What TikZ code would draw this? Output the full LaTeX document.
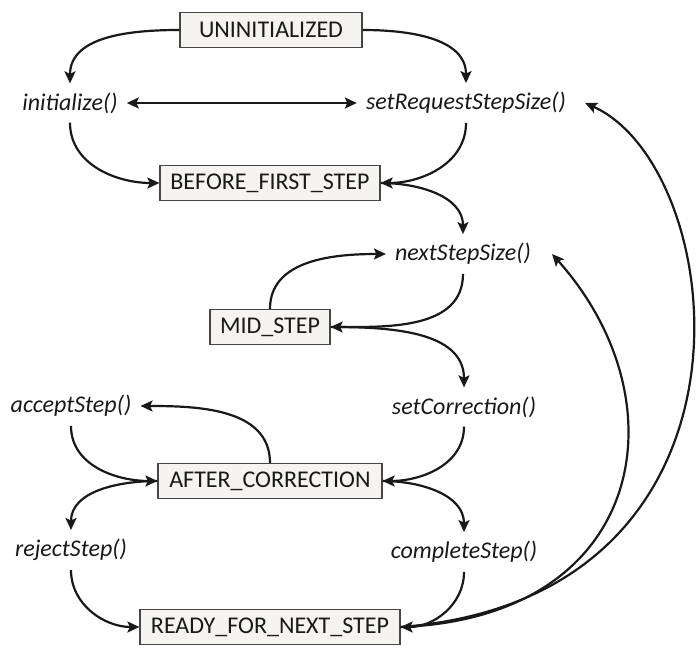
\documentclass[tikz,border=0pt]{standalone}
\usepackage{fontspec}
\setmainfont{Carlito}
\usepackage{tikz}
\usetikzlibrary{arrows.meta}
\definecolor{boxfill}{RGB}{245,244,240}
\definecolor{boxline}{RGB}{70,70,70}
\definecolor{ink}{RGB}{25,25,25}

\begin{document}
\begin{tikzpicture}[x=1pt, y=1pt, >={Stealth[length=12pt, width=11pt, inset=2.5pt]},
         state/.style={
         % The shape:
         rectangle,
         % The size:
         minimum height=35pt,
         inner xsep=6pt,
         % The border
         draw=boxline, line width=1.2pt,
         fill=boxfill,
         % Font
         text=ink, font=\fontsize{24}{28}\selectfont},
         call/.style={inner sep=9pt, text=ink,
         font=\fontsize{24}{28}\selectfont\itshape},
         flow/.style={->, line width=2.2pt, ink}]
         \useasboundingbox (0,0) rectangle (700,648);
         % states
         \foreach \x \y \b \n \w in {271/618/182/uninit/UNINITIALIZED,
            270/465/220/bfs/BEFORE\_FIRST\_STEP, 270/321/120/mid/MID\_STEP,
            270/167/224/after/AFTER\_CORRECTION, 270/21/260/ready/READY\_FOR\_NEXT\_STEP}{
            \node [state, minimum width=\b pt] (\n) at (\x,\y) {\w};
         };
         % calls
         \foreach \x \y \n \w in {70/545/init/initialize(),
            466/545/setreq/setRequestStepSize(), 463/394/nexts/nextStepSize(),
            464/241/setcorr/setCorrection(), 71/242/accept/acceptStep(),
            71/98/reject/rejectStep(), 464/96/complete/completeStep()}{
            \node [call] (\n) at (\x,\y) {\w};
         };
         \draw [flow] (uninit.west) to[out=180, in=90] (init.north);
         \draw [flow] (uninit.east) to[out=0, in=90] (setreq.north);
         \draw [flow, <->] (init.east) -- (setreq.west);
         \draw [flow] (init.south) to[out=-90, in=180] (bfs.west);
         \draw [flow] (setreq.south) to[out=-90, in=0] (bfs.east);
         \draw [flow] (bfs.east) to[out=0, in=90] (nexts.north);
         \draw [flow] (mid.north) to[out=90, in=180] (nexts.west);
         \draw [flow] (nexts.south) to[out=-90, in=0] (mid.east);
         \draw [flow] (mid.east) to[out=0, in=90] (setcorr.north);
         \draw [flow] (setcorr.south) to[out=-90, in=0] (after.east);
         \draw [flow] (after.north) to[out=90, in=0] (accept.east);
         \draw [flow] (accept.south) to[out=-90, in=180] (after.west);
         \draw [flow] (after.west) to[out=180, in=90] (reject.north);
         \draw [flow] (after.east) to[out=0, in=90] (complete.north);
         \draw [flow] (reject.south) to[out=-90, in=180] (ready.west);
         \draw [flow] (complete.south) to[out=-90, in=0] (ready.east);
         %% back from READY_FOR_NEXT_STEP
         \draw [flow] (ready.east) .. controls (645,30) and (685,245) .. ([xshift=12pt]nexts.east);
         \draw [flow] (ready.east) .. controls (780,50) and (730,480) .. ([xshift=10pt]setreq.east);
      \end{tikzpicture}
\end{document}
